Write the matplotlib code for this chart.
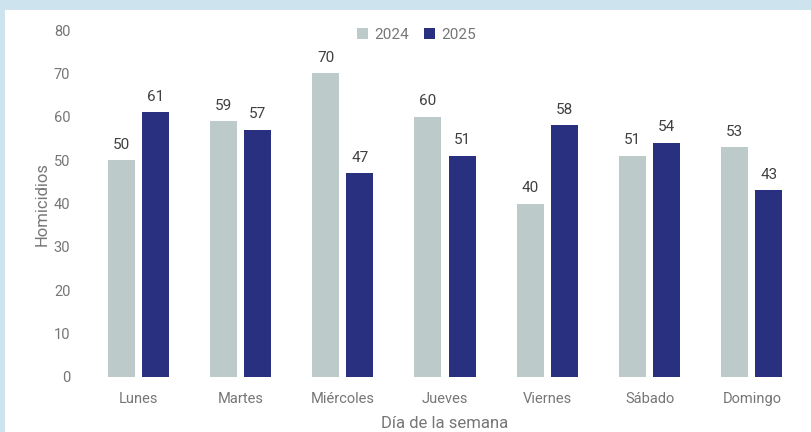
import matplotlib.pyplot as plt
import numpy as np

# Datos
dias = ["Lunes", "Martes", "Miércoles", "Jueves", "Viernes", "Sábado", "Domingo"]
valores_2024 = [50, 59, 70, 60, 40, 51, 53]
valores_2025 = [61, 57, 47, 51, 58, 54, 43]

plt.rcParams["font.family"] = ["Roboto", "DejaVu Sans"]

color_2024 = "#BCCBCA"
color_2025 = "#29307F"
gris = "#767676"

fig = plt.figure(figsize=(8.12, 4.32), dpi=100)
fig.patch.set_facecolor("#CDE4EF")
# fondo blanco interior (ejes vacios detras)
fondo = fig.add_axes([5 / 812, 0, 1, 1 - 10 / 432], zorder=-10)
fondo.axis("off")
fondo.add_patch(plt.Rectangle((0, 0), 1, 1, transform=fondo.transAxes,
                              facecolor="white", edgecolor="none"))

ax = fig.add_axes([87 / 812, 55 / 432, 716 / 812, 347 / 432])
ax.patch.set_alpha(0)

x = np.arange(len(dias))
ancho = 0.265
sep = 0.167
b1 = ax.bar(x - sep, valores_2024, ancho, color=color_2024, label="2024")
b2 = ax.bar(x + sep, valores_2025, ancho, color=color_2025, label="2025")

for barras in (b1, b2):
    ax.bar_label(barras, padding=6, fontsize=11, color="#404040")

ax.set_xlim(-0.5, len(dias) - 0.5)
ax.set_ylim(0, 80)
ax.set_yticks(range(0, 81, 10))
ax.set_xticks(x)
ax.set_xticklabels(dias)
ax.tick_params(axis="both", length=0, labelsize=10.5, labelcolor=gris)
ax.tick_params(axis="y", pad=12)
ax.tick_params(axis="x", pad=11)
for s in ax.spines.values():
    s.set_visible(False)

ax.set_ylabel("Homicidios", fontsize=12, color=gris, labelpad=3)
ax.set_xlabel("Día de la semana", fontsize=12, color=gris, labelpad=7)

ax.legend(loc="upper center", bbox_to_anchor=(0.46, 1.045), ncol=2, frameon=False,
          fontsize=11, labelcolor=gris, handlelength=0.7, handleheight=0.7,
          handletextpad=0.4, columnspacing=1.0)

fig.savefig("out.png", dpi=100, facecolor=fig.get_facecolor())
